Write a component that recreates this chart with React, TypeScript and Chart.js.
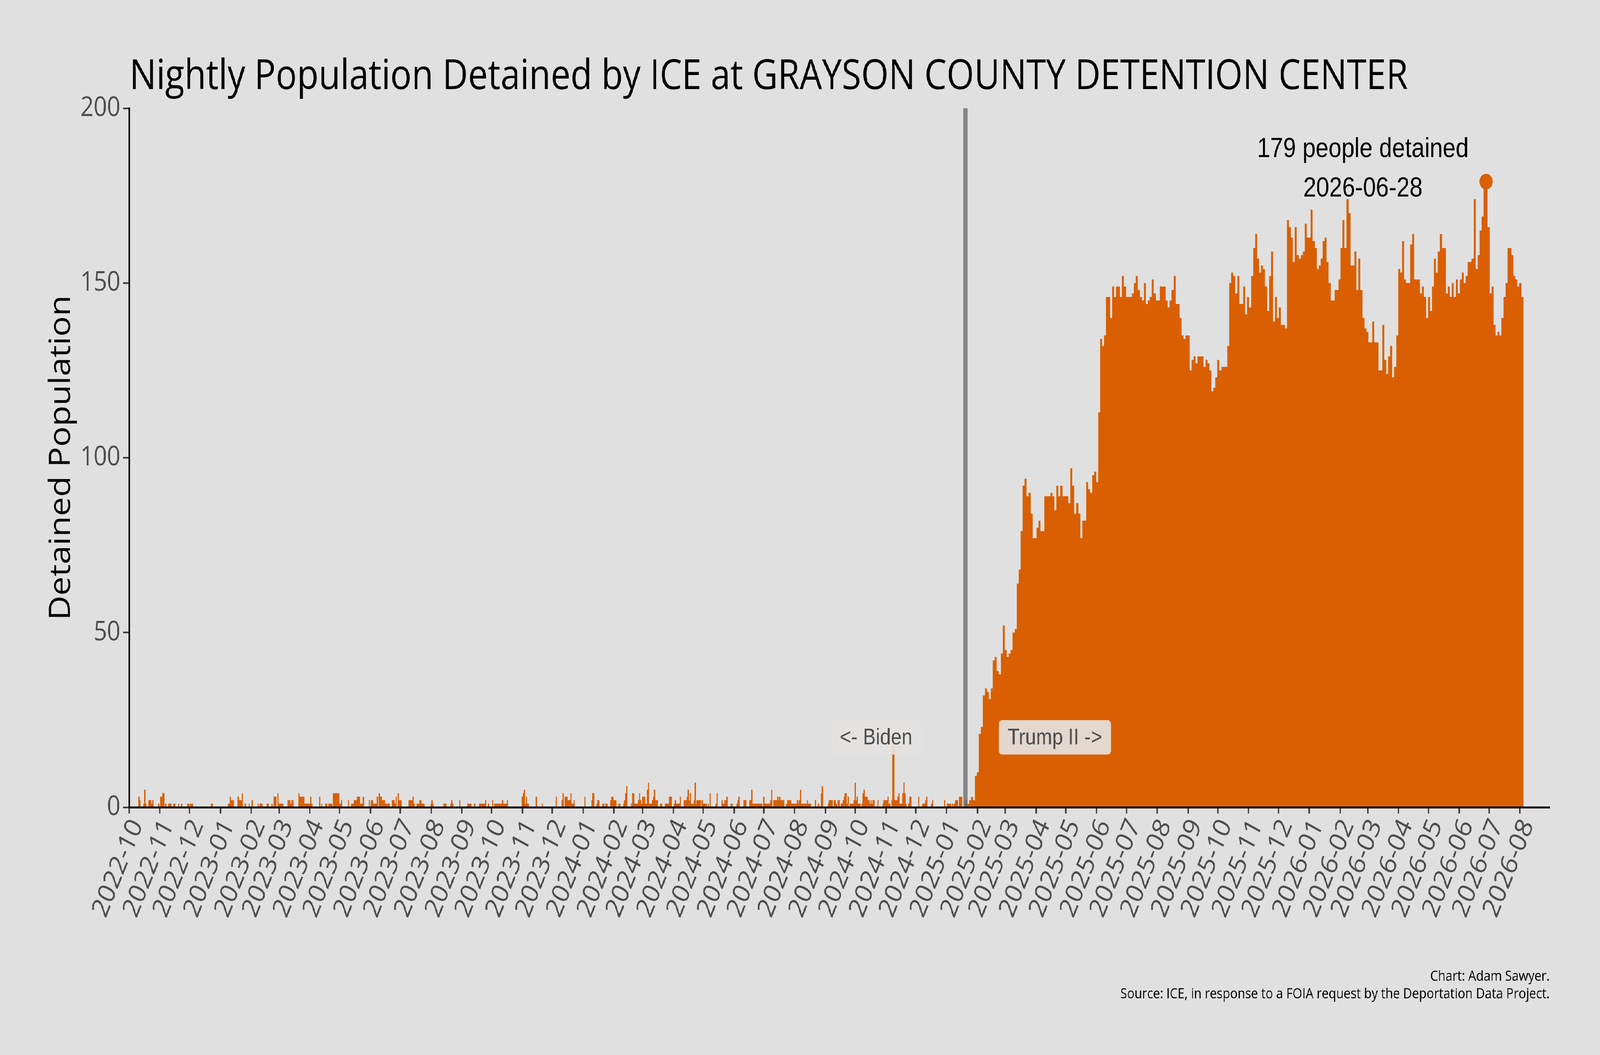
import { useEffect, useRef, useState } from "react"
import { Chart, registerables } from "chart.js"

Chart.register(...registerables)

const START_DATE = "2022-10-01"

const monthLabels = [
  "2022-10", "2022-11", "2022-12",
  "2023-01", "2023-02", "2023-03", "2023-04", "2023-05", "2023-06",
  "2023-07", "2023-08", "2023-09", "2023-10", "2023-11", "2023-12",
  "2024-01", "2024-02", "2024-03", "2024-04", "2024-05", "2024-06",
  "2024-07", "2024-08", "2024-09", "2024-10", "2024-11", "2024-12",
  "2025-01", "2025-02", "2025-03", "2025-04", "2025-05", "2025-06",
  "2025-07", "2025-08", "2025-09", "2025-10", "2025-11", "2025-12",
  "2026-01", "2026-02", "2026-03", "2026-04", "2026-05", "2026-06",
  "2026-07", "2026-08",
]

const yTicks = [0, 50, 100, 150, 200]

// nights before the inauguration with anyone detained: days since 2022-10-01
const earlyDays = [
  0, 10, 11, 15, 16, 17, 20, 21, 22, 23, 24, 30, 32, 33, 34, 35, 37, 40, 41, 42, 45, 46, 50, 53, 59, 60, 62, 63, 64, 83, 84,
  100, 101, 102, 103, 104, 105, 110, 111, 112, 113, 114, 117, 121, 124, 130, 132, 133, 134, 139, 140, 144, 146, 147, 148,
  150, 151, 152, 153, 154, 155, 160, 161, 162, 163, 164, 165, 171, 172, 173, 174, 175, 176, 177, 178, 179, 180, 181, 182,
  183, 184, 192, 194, 198, 199,
  201, 202, 203, 204, 206, 207, 208, 209, 210, 211, 212, 213, 214, 221, 224, 225, 226, 227, 228, 229, 230, 231, 232, 233,
  234, 235, 236, 242, 244, 245, 246, 247, 248, 249, 250, 252, 253, 254, 255, 256, 257, 258, 259, 260, 261, 262, 265, 266,
  267, 268, 269, 271, 272, 273, 274, 282, 283, 284, 285, 286, 287, 290, 291, 292, 293, 294, 295, 296, 297,
  304, 305, 306, 317, 318, 319, 324, 325, 326, 333, 341, 342, 343, 344, 348, 353, 354, 355, 356, 357, 358, 359, 362, 366,
  368, 369, 370, 371, 372, 373, 374, 375, 376, 377, 378, 379, 380, 381, 396, 397, 398, 399,
  400, 401, 402, 410, 416, 430, 436, 437, 439, 440, 441, 442, 443, 444, 445, 446, 447, 448, 459, 466, 467, 468, 471, 472,
  473, 477, 478, 480, 481, 485, 486, 487, 488, 489, 490, 493, 494, 498, 499,
  500, 501, 506, 507, 508, 509, 510, 511, 512, 513, 514, 515, 516, 517, 518, 519, 520, 521, 522, 523, 524, 525, 526, 527,
  528, 529, 530, 531, 532, 535, 536, 540, 541, 542, 543, 544, 545, 546, 549, 550, 551, 552, 553, 554, 555, 559, 560, 561,
  562, 563, 564, 565, 566, 567, 568, 569, 570, 571, 572, 573, 574, 575, 577, 578, 579, 580, 581, 583, 585, 591, 592, 597,
  598, 599,
  600, 601, 602, 606, 607, 612, 613, 614, 619, 620, 621, 625, 626, 627, 628, 629, 630, 631, 632, 633, 634, 635, 636, 637,
  639, 640, 641, 642, 643, 644, 645, 646, 647, 649, 650, 651, 652, 653, 654, 655, 656, 657, 658, 659, 662, 663, 664, 665,
  666, 667, 668, 669, 670, 671, 672, 673, 674, 675, 676, 677, 678, 679, 680, 681, 682, 683, 684, 685, 686, 691, 694, 697,
  698,
  704, 705, 706, 707, 708, 710, 711, 712, 714, 715, 717, 718, 719, 720, 721, 722, 723, 724, 726, 727, 728, 729, 730, 731,
  732, 733, 734, 735, 736, 738, 739, 740, 741, 742, 743, 744, 745, 746, 747, 748, 749, 750, 754, 759, 760, 761, 762, 763,
  764, 765, 766, 768, 769, 770, 771, 772, 773, 774, 775, 776, 777, 778, 779, 780, 781, 782, 785, 786, 787, 795, 799,
  800, 801, 802, 803, 808, 809, 821, 824, 825, 826, 827, 829, 831, 832, 833, 834, 836, 837, 838,
]

const earlyValues = [
  1, 3, 2, 1, 5, 1, 2, 2, 2, 1, 2, 1, 3, 3, 4, 4, 1, 1, 1, 1, 1, 1, 1, 1, 1, 1, 1, 1, 1, 1, 1,
  1, 1, 3, 2, 2, 2, 3, 2, 2, 2, 4, 1, 1, 2, 1, 1, 1, 1, 1, 1, 1, 3, 3, 3,
  4, 1, 1, 1, 1, 1, 2, 2, 2, 1, 2, 2, 4, 3, 3, 3, 3, 3, 1, 1, 1, 1, 1, 1,
  3, 1, 3, 1, 1, 1,
  1, 1, 1, 1, 4, 4, 4, 4, 4, 4, 1, 1, 2, 2, 1, 1, 1, 2, 2, 2, 3, 3, 3, 1,
  1, 1, 3, 2, 2, 2, 1, 1, 1, 1, 3, 4, 3, 3, 2, 2, 2, 1, 1, 1, 1, 1, 2, 2,
  2, 1, 3, 4, 2, 2, 2, 2, 2, 2, 2, 3, 1, 1, 1, 1, 2, 2, 1, 1, 1,
  1, 2, 1, 1, 1, 1, 1, 2, 1, 2, 1, 1, 1, 1, 1, 1, 1, 1, 1, 1, 1, 2, 1, 2,
  1, 1, 1, 1, 1, 1, 1, 1, 2, 1, 1, 1, 1, 2, 3, 4, 5, 1,
  3, 1, 1, 3, 1, 3, 2, 4, 3, 3, 3, 2, 2, 2, 4, 1, 1, 2, 3, 2, 4, 4, 1, 2,
  2, 1, 1, 1, 1, 2, 3, 3, 2, 2, 2, 1, 1, 1, 2,
  4, 6, 1, 4, 4, 1, 1, 1, 1, 2, 4, 2, 1, 3, 3, 3, 1, 1, 5, 7, 1, 1, 1, 2,
  3, 5, 2, 2, 2, 1, 1, 1, 1, 1, 1, 3, 3, 3, 1, 2, 1, 1, 1, 1, 3, 2, 2, 2,
  3, 5, 2, 4, 1, 1, 1, 2, 7, 1, 2, 2, 2, 2, 2, 1, 1, 1, 1, 1, 4, 1, 4, 2,
  1, 1,
  2, 2, 3, 1, 1, 1, 2, 3, 2, 2, 2, 2, 2, 5, 1, 1, 1, 1, 1, 1, 1, 1, 1, 1,
  3, 1, 1, 1, 1, 1, 1, 2, 5, 2, 2, 2, 2, 3, 2, 3, 2, 2, 2, 2, 1, 2, 2, 2,
  2, 1, 1, 1, 1, 1, 1, 2, 1, 2, 5, 1, 1, 1, 1, 1, 1, 2, 1, 1, 1, 2, 1, 4,
  6,
  1, 2, 2, 2, 2, 2, 2, 1, 2, 2, 1, 1, 2, 3, 4, 4, 1, 3, 1, 1, 1, 1, 2, 7,
  2, 3, 1, 1, 1, 1, 4, 5, 3, 3, 3, 2, 2, 1, 2, 1, 2, 2, 2, 1, 2, 2, 2, 2,
  3, 1, 1, 2, 18, 18, 2, 2, 2, 3, 4, 1, 1, 1, 4, 7, 4, 1, 1, 3, 3, 3, 1,
  1, 1, 2, 3, 1, 2, 2, 1, 1, 1, 1, 1, 1, 2, 2, 2, 3, 3, 3,
]

// from the inauguration on, one reading per two nights
const lateStart = "2025-01-20"
const lateStepDays = 2
const lateValues = [
  2, 1, 2, 3, 2, 9, 10, 21, 23, 32,
  34, 33, 31, 34, 42, 43, 39, 38, 44, 52,
  45, 43, 44, 45, 50, 51, 64, 68, 79, 92,
  94, 89, 90, 84, 77, 77, 80, 82, 79, 79,
  89, 89, 89, 90, 89, 85, 92, 89, 92, 89,
  89, 89, 87, 97, 92, 84, 87, 84, 77, 82,
  82, 93, 91, 90, 95, 96, 93, 113, 134, 132,
  135, 146, 146, 140, 149, 146, 149, 149, 146, 152,
  149, 146, 146, 146, 147, 150, 152, 148, 146, 145,
  150, 144, 145, 146, 151, 147, 145, 145, 149, 149,
  149, 145, 143, 145, 148, 152, 144, 144, 140, 135,
  134, 135, 135, 125, 128, 129, 127, 129, 129, 129,
  126, 128, 127, 125, 119, 120, 123, 128, 125, 126,
  126, 126, 132, 150, 153, 152, 147, 152, 144, 144,
  149, 141, 146, 143, 152, 160, 164, 157, 153, 155,
  154, 149, 142, 152, 159, 139, 146, 140, 143, 138,
  138, 137, 168, 166, 163, 156, 166, 158, 157, 158,
  159, 167, 163, 163, 171, 162, 160, 154, 155, 157,
  162, 163, 156, 150, 145, 145, 148, 148, 151, 160,
  168, 160, 174, 170, 155, 155, 159, 148, 157, 148,
  140, 137, 136, 133, 133, 139, 133, 133, 125, 125,
  138, 128, 124, 129, 132, 123, 126, 135, 154, 153,
  162, 151, 150, 150, 161, 164, 151, 151, 151, 147,
  149, 146, 140, 146, 142, 149, 157, 153, 159, 164,
  160, 160, 147, 149, 146, 150, 146, 151, 147, 151,
  153, 150, 152, 156, 156, 157, 174, 154, 158, 165,
  169, 177, 179, 166, 147, 149, 138, 135, 136, 135,
  140, 146, 150, 160, 160, 158, 152, 151, 149, 150,
  146,
]

const inaugurationDate = "2025-01-20"
const peakDate = "2026-06-28"
const peakValue = 179

const W = 4800
const H = 2700
const ORANGE = "#d95f02"
const SEGOE_LIKE = '"Open Sans", "Noto Sans", sans-serif'
const ARIAL_LIKE = '"Liberation Sans", Arial, sans-serif'

const dayOf = (iso: string) => (Date.parse(iso) - Date.parse(START_DATE)) / 86400000

const decorations = {
  id: "decorations",
  afterDatasetsDraw(chart: Chart) {
    const { ctx, chartArea } = chart
    const xs = chart.scales.x
    const ys = chart.scales.y
    const lineDay = dayOf(inaugurationDate)

    ctx.save()
    // inauguration marker
    const lx = xs.getPixelForValue(lineDay)
    ctx.strokeStyle = "rgba(110, 110, 110, 0.8)"
    ctx.lineWidth = 13
    ctx.beginPath()
    ctx.moveTo(lx, chartArea.top)
    ctx.lineTo(lx, chartArea.bottom)
    ctx.stroke()

    // era labels either side of it
    ctx.font = `58px ${ARIAL_LIKE}`
    ctx.textAlign = "center"
    ctx.textBaseline = "alphabetic"
    const eras: [string, number][] = [["<- Biden", -90], ["Trump II ->", 90]]
    for (const [text, shift] of eras) {
      const cx = xs.getPixelForValue(lineDay + shift)
      const cy = ys.getPixelForValue(20)
      const w = ctx.measureText(text).width + 54
      const h = 88
      ctx.fillStyle = "rgba(228, 226, 224, 0.92)"
      ctx.beginPath()
      ctx.roundRect(cx - w / 2, cy - h / 2, w, h, 10)
      ctx.fill()
      ctx.fillStyle = "#4d4d4d"
      ctx.fillText(text, cx, cy + 18)
    }

    // peak note
    const px = xs.getPixelForValue(dayOf(peakDate) - 124)
    const py = ys.getPixelForValue(peakValue)
    ctx.font = `70px ${ARIAL_LIKE}`
    ctx.fillStyle = "#000"
    ctx.fillText(`${peakValue} people detained`, px, py - 63)
    ctx.fillText(peakDate, px, py + 38)
    ctx.restore()
  },
  afterDraw(chart: Chart) {
    const { ctx, chartArea } = chart
    ctx.save()
    ctx.fillStyle = "#000"
    ctx.textBaseline = "alphabetic"

    ctx.font = `106px ${SEGOE_LIKE}`
    ctx.textAlign = "left"
    ctx.fillText("Nightly Population Detained by ICE at GRAYSON COUNTY DETENTION CENTER", chartArea.left + 2, 228)

    ctx.save()
    ctx.translate(210, (chartArea.top + chartArea.bottom) / 2)
    ctx.rotate(-Math.PI / 2)
    ctx.font = `87px ${SEGOE_LIKE}`
    ctx.textAlign = "center"
    ctx.fillText("Detained Population", 0, 0)
    ctx.restore()

    ctx.font = `37px ${SEGOE_LIKE}`
    ctx.textAlign = "right"
    ctx.fillText("Chart: Adam Sawyer.", chartArea.right, 2510)
    ctx.fillText("Source: ICE, in response to a FOIA request by the Deportation Data Project.", chartArea.right, 2555)
    ctx.restore()
  },
}

const viewportFit = () => ({ sx: window.innerWidth / W, sy: window.innerHeight / H })

const DetentionChart = () => {
  const canvasRef = useRef<HTMLCanvasElement>(null)
  const chartRef = useRef<Chart | null>(null)
  // stretch the 4800x2700 drawing over whatever CSS viewport the window gives
  const [fit, setFit] = useState(viewportFit)

  useEffect(() => {
    const onResize = () => setFit(viewportFit())
    window.addEventListener("resize", onResize)
    return () => window.removeEventListener("resize", onResize)
  }, [])

  useEffect(() => {
    if (!canvasRef.current) return
    if (chartRef.current) chartRef.current.destroy()

    const lateX0 = dayOf(lateStart) - 0.5
    const latePoints = lateValues.map((v, i) => ({ x: lateX0 + i * lateStepDays, y: v }))
    // close the last step
    latePoints.push({ x: lateX0 + lateValues.length * lateStepDays, y: lateValues[lateValues.length - 1] })

    chartRef.current = new Chart(canvasRef.current, {
      type: "bar",
      data: {
        datasets: [
          {
            type: "line",
            data: [{ x: dayOf(peakDate), y: peakValue }],
            pointRadius: 20,
            pointBackgroundColor: ORANGE,
            pointBorderWidth: 0,
            showLine: false,
            order: 0,
          },
          {
            type: "line",
            data: latePoints,
            stepped: true,
            fill: "origin",
            backgroundColor: ORANGE,
            borderWidth: 0,
            pointRadius: 0,
            order: 1,
          },
          {
            type: "bar",
            data: earlyDays.map((d, i) => ({ x: d, y: earlyValues[i] })),
            backgroundColor: ORANGE,
            borderWidth: 0,
            barPercentage: 1,
            categoryPercentage: 1,
            grouped: false,
            order: 2,
          },
        ],
      },
      options: {
        responsive: false,
        devicePixelRatio: 1,
        animation: false,
        events: [],
        layout: { padding: { top: 277, right: 151, left: 0, bottom: 0 } },
        plugins: { legend: { display: false }, tooltip: { enabled: false } },
        scales: {
          x: {
            type: "linear",
            min: 0,
            max: 1430,
            offset: false,
            afterBuildTicks: (axis) => {
              axis.ticks = monthLabels.map((m) => ({ value: dayOf(m + "-01") }))
            },
            afterFit: (axis) => {
              axis.height = 634
            },
            ticks: {
              autoSkip: false,
              minRotation: 65,
              maxRotation: 65,
              padding: 2,
              labelOffset: 24,
              color: "#4d4d4d",
              font: { family: SEGOE_LIKE, size: 71 },
              callback: (_v, i) => monthLabels[i],
            },
            grid: { offset: false, drawOnChartArea: false, tickLength: 16, tickWidth: 4, tickColor: "#333333" },
            border: { color: "#000", width: 5, z: 1 },
          },
          y: {
            type: "linear",
            min: 0,
            max: 200,
            afterBuildTicks: (axis) => {
              axis.ticks = yTicks.map((v) => ({ value: v }))
            },
            afterFit: (axis) => {
              axis.width = 387
            },
            ticks: {
              padding: 8,
              color: "#4d4d4d",
              font: { family: SEGOE_LIKE, size: 70 },
            },
            grid: { drawOnChartArea: false, tickLength: 18, tickWidth: 4, tickColor: "#333333" },
            border: { color: "#000", width: 5, z: 1 },
          },
        },
      },
      plugins: [decorations],
    })

    return () => {
      if (chartRef.current) {
        chartRef.current.destroy()
        chartRef.current = null
      }
    }
  }, [])

  return (
    <div
      style={{
        position: "fixed",
        left: 0,
        top: 0,
        width: W,
        height: H,
        background: "#e0e0e0",
        transform: `scale(${fit.sx}, ${fit.sy})`,
        transformOrigin: "0 0",
      }}
    >
      <canvas ref={canvasRef} width={W} height={H} style={{ width: W, height: H }}></canvas>
    </div>
  )
}

export default function App() {
  return <DetentionChart />
}
